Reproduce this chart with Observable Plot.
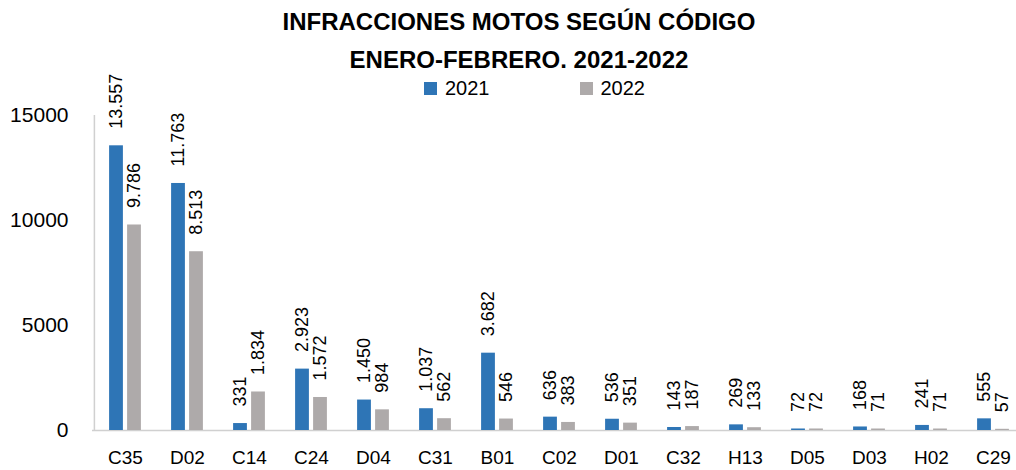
<!DOCTYPE html>
<html>
<head>
<meta charset="utf-8">
<script src="https://cdn.jsdelivr.net/npm/d3@7"></script>
<script src="https://cdn.jsdelivr.net/npm/@observablehq/plot@0.6"></script>
<style>
  html, body { margin: 0; padding: 0; background: #fff; }
  #wrap { width: 1016px; height: 470px; position: relative; overflow: hidden; font-family: "Liberation Sans", Arial, sans-serif; }
  #title { text-align: center; font-family: "Liberation Sans Narrow", "Arial Narrow", "Liberation Sans", sans-serif; font-weight: bold; font-size: 24px; line-height: 38px; padding-top: 3px; padding-left: 22px; height: 69px; color: #000; }
  #legend { height: 32px; display: flex; align-items: center; margin-left: 424px; gap: 90px; font-size: 20px; color: #000; }
  .item { display: flex; align-items: center; gap: 8px; }
  .sw { width: 13px; height: 13px; display: inline-block; }
  #chart svg { overflow: visible; display: block; }
</style>
</head>
<body>
<div id="wrap">
  <div id="title">INFRACCIONES MOTOS SEGÚN CÓDIGO<br>ENERO-FEBRERO. 2021-2022</div>
  <div id="legend"></div>
  <div id="chart"></div>
</div>
<script>
const codes = ["C35","D02","C14","C24","D04","C31","B01","C02","D01","C32","H13","D05","D03","H02","C29"];
const values2021 = [13557, 11763, 331, 2923, 1450, 1037, 3682, 636, 536, 143, 269, 72, 168, 241, 555];
const values2022 = [9786, 8513, 1834, 1572, 984, 562, 546, 383, 351, 187, 133, 72, 71, 71, 57];
const seriesNames = ["2021", "2022"];
const seriesColors = ["#2E75B6", "#AEAAAA"];
const yTicks = [0, 5000, 10000, 15000];

const locale = d3.formatLocale({decimal: ",", thousands: ".", grouping: [3], currency: ["", "€"]});
const fmt = locale.format(",d");

const d21 = codes.map((c, i) => ({code: c, value: values2021[i]}));
const d22 = codes.map((c, i) => ({code: c, value: values2022[i]}));

// legend
const legend = document.getElementById("legend");
seriesNames.forEach((s, i) => {
  const it = document.createElement("div");
  it.className = "item";
  it.innerHTML = `<span class="sw" style="background:${seriesColors[i]}"></span><span>${s}</span>`;
  legend.appendChild(it);
});

const left = 92, right = 1025;
const step = (right - left) / codes.length;
const barW = 14, gap = 4;
const inA = step / 2 - gap / 2 - barW;   // outer inset
const inB = step / 2 + gap / 2;          // inner inset
const off = (barW + gap) / 2;

const chart = Plot.plot({
  width: 1016,
  height: 366,
  marginTop: 11,
  marginBottom: 40,
  marginLeft: left,
  marginRight: 0,
  style: {fontFamily: "'Liberation Sans', Arial, sans-serif", color: "#000", background: "transparent"},
  x: {domain: codes, range: [left, right], padding: 0, label: null},
  y: {domain: [0, 15000], label: null},
  marks: [
    Plot.ruleY([0], {stroke: "#d0d0d0", strokeWidth: 1.5}),
    Plot.ruleX([codes[0]], {dx: -step / 2, y1: 0, y2: 15000, stroke: "#d0d0d0", strokeWidth: 1.5}),
    Plot.barY(d21, {x: "code", y: "value", fill: seriesColors[0], insetLeft: inA, insetRight: inB}),
    Plot.barY(d22, {x: "code", y: "value", fill: seriesColors[1], insetLeft: inB, insetRight: inA}),
    Plot.text(d21, {x: "code", y: "value", text: d => fmt(d.value), rotate: -90, textAnchor: "start", lineAnchor: "middle", dx: -off, dy: -17, fontSize: 18, fill: "#000"}),
    Plot.text(d22, {x: "code", y: "value", text: d => fmt(d.value), rotate: -90, textAnchor: "start", lineAnchor: "middle", dx: off, dy: -17, fontSize: 18, fill: "#000"}),
    Plot.axisY(yTicks, {tickSize: 0, tickPadding: 24, fontSize: 21, tickFormat: d => String(d), label: null}),
    Plot.axisX({tickSize: 0, tickPadding: 20, fontSize: 19, label: null})
  ]
});
document.getElementById("chart").appendChild(chart);
</script>
</body>
</html>
